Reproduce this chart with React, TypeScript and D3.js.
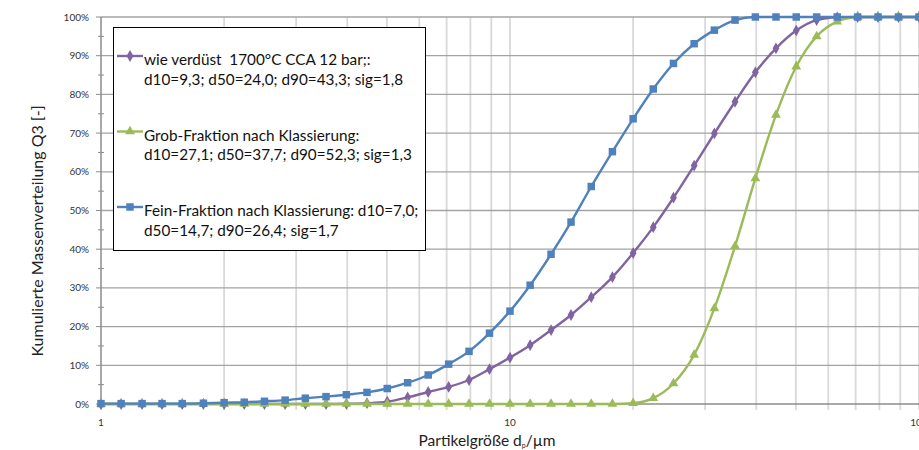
import React from "react";
import * as d3 from "d3";

// Partikelgröße in µm (41 Klassen, logarithmisch)
const sizes = [
  1.0, 1.12, 1.26, 1.41, 1.58, 1.78, 2.0, 2.24, 2.51, 2.82, 3.16, 3.55, 3.98, 4.47, 5.01, 5.62, 6.31, 7.08, 7.94, 8.91,
  10.0, 11.2, 12.6, 14.1, 15.8, 17.8, 20.0, 22.4, 25.1, 28.2, 31.6, 35.5, 39.8, 44.7, 50.1, 56.2, 63.1, 70.8, 79.4, 89.1,
  100,
];

// Q3 in %
const verduest = [
  0, 0, 0, 0, 0, 0, 0, 0, 0, 0, 0, 0, 0.05, 0.2, 0.6, 1.7, 3.1, 4.4, 6.2, 9.0,
  12.0, 15.2, 19.1, 23.0, 27.6, 32.8, 39.0, 45.7, 53.3, 61.6, 69.9, 78.1, 85.7, 91.9, 96.5, 99.2, 99.9, 100, 100, 100,
  100,
];
const grob = [
  0, 0, 0, 0, 0, 0, 0, 0, 0, 0, 0, 0, 0, 0, 0, 0, 0, 0, 0, 0,
  0, 0, 0, 0, 0, 0, 0.2, 1.5, 5.3, 12.7, 24.7, 40.8, 58.3, 74.7, 87.2, 95.0, 98.8, 100, 100, 100,
  100,
];
const fein = [
  0.1, 0.1, 0.1, 0.1, 0.1, 0.2, 0.35, 0.45, 0.7, 1.0, 1.5, 1.9, 2.4, 3.0, 4.0, 5.5, 7.5, 10.3, 13.6, 18.3,
  24.0, 30.7, 38.7, 47.0, 56.2, 65.2, 73.7, 81.4, 88.0, 93.1, 96.6, 99.2, 100, 100, 100, 100, 100, 100, 100, 100,
  100,
];

const xTicks = [1, 10, 100];
const yTicks = [0, 10, 20, 30, 40, 50, 60, 70, 80, 90, 100];

const series = [
  { name: "verduest", values: verduest, color: "#8064a2", marker: "diamond",
    label: ["wie verdüst  1700°C CCA 12 bar;:", "d10=9,3; d50=24,0; d90=43,3; sig=1,8"] },
  { name: "grob", values: grob, color: "#9bbb59", marker: "triangle",
    label: ["Grob-Fraktion nach Klassierung:", "d10=27,1; d50=37,7; d90=52,3; sig=1,3"] },
  { name: "fein", values: fein, color: "#4f81bd", marker: "square",
    label: ["Fein-Fraktion nach Klassierung: d10=7,0;", "d50=14,7; d90=26,4; sig=1,7"] },
];

const width = 919;
const height = 450;
const font = "Lato, 'DejaVu Sans', sans-serif";

const symbols: Record<string, d3.SymbolType> = {
  diamond: d3.symbolDiamond,
  triangle: d3.symbolTriangle,
  square: d3.symbolSquare,
};
const symbolSize: Record<string, number> = { diamond: 40, triangle: 42, square: 56 };

const Marker = ({ type, color, x, y }: { type: string; color: string; x: number; y: number }) => (
  <path
    d={d3.symbol(symbols[type], symbolSize[type])() || ""}
    transform={`translate(${x},${y})`}
    fill={color}
  />
);

export default function App() {
  const x = d3.scaleLog().domain([1, 100]).range([101, 919]);
  const y = d3.scaleLinear().domain([0, 100]).range([404, 17]);

  const minorX = d3.range(1, 10).concat(d3.range(10, 101, 10));
  const minorY = d3.range(5, 100, 10);

  const line = d3
    .line<number>()
    .x((_, i) => x(sizes[i]))
    .y((d) => y(d))
    .curve(d3.curveMonotoneX);

  return (
    <svg
      width={width}
      height={height}
      style={{ position: "absolute", left: 0, top: 0, background: "#fff" }}
      fontFamily={font}
    >
      {/* vertical grid */}
      {minorX.map((v) => (
        <line key={"gx" + v} x1={x(v)} x2={x(v)} y1={y(100)} y2={410} stroke="#d9d9d9" strokeWidth={1.8} />
      ))}
      {/* horizontal grid */}
      {yTicks.filter((t) => t > 0).map((t) => (
        <line key={"gy" + t} x1={101} x2={width} y1={y(t)} y2={y(t)} stroke="#a3a3a3" strokeWidth={1.3} />
      ))}
      {/* axes */}
      <line x1={101} x2={101} y1={y(100)} y2={y(0)} stroke="#8c8c8c" strokeWidth={1.3} />
      <line x1={101} x2={width} y1={y(0)} y2={y(0)} stroke="#8c8c8c" strokeWidth={1.3} />
      {yTicks.map((t) => (
        <g key={"yt" + t}>
          <line x1={96} x2={101} y1={y(t)} y2={y(t)} stroke="#8c8c8c" />
          <text x={89} y={y(t)} dy="0.35em" textAnchor="end" fontSize={10} fill="#333">
            {t}%
          </text>
        </g>
      ))}
      {minorY.map((t) => (
        <line key={"ym" + t} x1={98} x2={104} y1={y(t)} y2={y(t)} stroke="#8c8c8c" />
      ))}
      {xTicks.map((t) => (
        <text key={"xt" + t} x={x(t)} y={426} textAnchor="middle" fontSize={10} fill="#333">
          {t}
        </text>
      ))}

      {/* series */}
      {series.map((s) => (
        <g key={s.name}>
          <path d={line(s.values) || ""} fill="none" stroke={s.color} strokeWidth={2.4} />
          {s.values.map((v, i) => (
            <Marker key={i} type={s.marker} color={s.color} x={x(sizes[i])} y={y(v)} />
          ))}
        </g>
      ))}

      {/* legend */}
      <rect x={113.5} y={27.5} width={312} height={223} fill="#fff" stroke="#000" strokeWidth={1} />
      {series.map((s, k) => {
        const ly = 56 + k * 75.5;
        return (
          <g key={"lg" + s.name}>
            <line x1={117} x2={143} y1={ly} y2={ly} stroke={s.color} strokeWidth={2.4} />
            <Marker type={s.marker} color={s.color} x={130} y={ly} />
            {s.label.map((t, j) => (
              <text
                key={j}
                x={144}
                y={ly + 9 + j * 19.5}
                fontSize={15.3}
                fill="#111"
                style={{ whiteSpace: "pre" }}
              >
                {t}
              </text>
            ))}
          </g>
        );
      })}

      {/* axis titles */}
      <text
        transform={`translate(43,231) rotate(-90)`}
        textAnchor="middle"
        fontSize={16}
        fill="#222"
      >
        Kumulierte Massenverteilung Q3 [-]
      </text>
      <text x={487} y={446} textAnchor="middle" fontSize={15.5} fill="#222">
        Partikelgröße d
        <tspan fontSize={7} dy={1.5}>p</tspan>
        <tspan dy={-1.5}>/µm</tspan>
      </text>
    </svg>
  );
}
